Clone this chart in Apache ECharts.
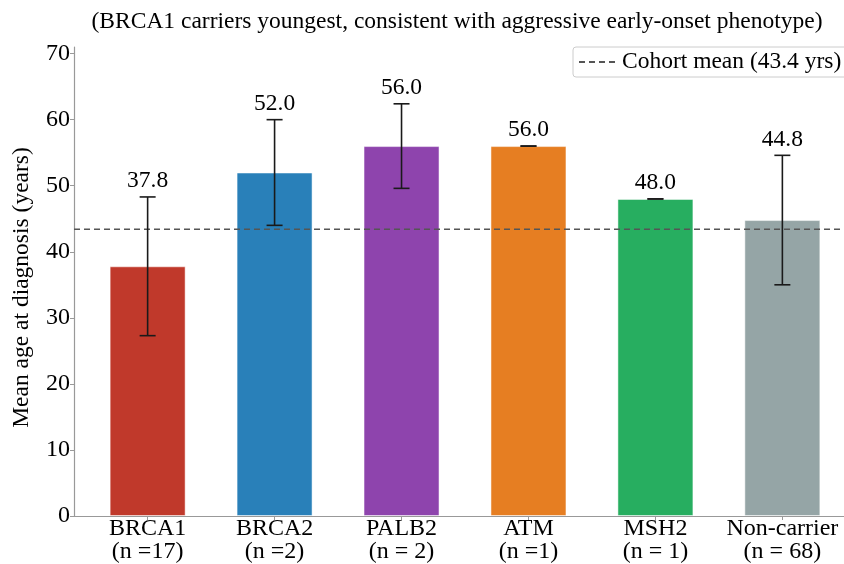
<!DOCTYPE html>
<html>
<head>
<meta charset="utf-8">
<script src="https://cdn.jsdelivr.net/npm/echarts@6/dist/echarts.min.js"></script>
<style>
  html, body { margin: 0; padding: 0; background: #fff; }
  #main { width: 844px; height: 564px; }
</style>
</head>
<body>
<div id="main"></div>
<script>
  var groups = ['BRCA1', 'BRCA2', 'PALB2', 'ATM', 'MSH2', 'Non-carrier'];
  var counts = ['(n =17)', '(n =2)', '(n = 2)', '(n =1)', '(n = 1)', '(n = 68)'];
  var meanAge = [37.8, 52.0, 56.0, 56.0, 48.0, 44.8];
  var errAge = [10.5, 8.0, 6.4, 0, 0, 9.8];
  var colors = ['#c0392b', '#2980b9', '#8e44ad', '#e67e22', '#27ae60', '#95a5a6'];
  var cohortMean = 43.4;
  var yTicks = [0, 10, 20, 30, 40, 50, 60, 70];

  var font = '"Liberation Serif", "Times New Roman", serif';
  var positions = groups.map(function (g, i) { return i; });

  var barData = groups.map(function (g, i) {
    return { value: [i, meanAge[i]], itemStyle: { color: colors[i] } };
  });
  var errData = groups.map(function (g, i) {
    return [i, meanAge[i], errAge[i]];
  });

  var chart = echarts.init(document.getElementById('main'));
  chart.setOption({
    animation: false,
    textStyle: { fontFamily: font, color: '#000' },
    title: {
      text: '(BRCA1 carriers youngest, consistent with aggressive early-onset phenotype)',
      left: 452,
      top: 5,
      textAlign: 'center',
      textStyle: { fontFamily: font, fontSize: 23.5, fontWeight: 'normal', color: '#000' }
    },
    legend: {
      left: 573,
      top: 47,
      padding: [3, 14, 3, 5],
      itemWidth: 38,
      itemGap: 6,
      borderColor: '#cccccc',
      borderWidth: 1,
      borderRadius: 3,
      itemStyle: { opacity: 0 },
      data: ['Cohort mean (43.4 yrs)'],
      textStyle: { fontFamily: font, fontSize: 23.5, color: '#000' }
    },
    grid: { left: 74, top: 47, width: 782, bottom: 48, outerBoundsMode: 'none' },
    xAxis: {
      type: 'value',
      min: -0.58,
      max: 5.58,
      splitLine: { show: false },
      axisLine: { onZero: false, lineStyle: { color: '#999', width: 1.2 } },
      axisTick: { show: true, customValues: positions, length: 4, lineStyle: { color: '#999' } },
      axisLabel: {
        customValues: positions,
        formatter: function (v) {
          var i = Math.round(v);
          return groups[i] + '\n' + counts[i];
        },
        fontFamily: font,
        fontSize: 24,
        lineHeight: 23,
        color: '#000',
        margin: 1
      }
    },
    yAxis: {
      type: 'value',
      min: 0,
      max: 71,
      name: 'Mean age at diagnosis (years)',
      nameLocation: 'middle',
      nameGap: 40,
      nameTextStyle: { fontFamily: font, fontSize: 23.5, color: '#000', padding: [0, 0, 0, -12] },
      splitLine: { show: false },
      axisLine: { show: true, onZero: false, lineStyle: { color: '#999', width: 1.2 } },
      axisTick: { show: true, customValues: yTicks, length: 4, lineStyle: { color: '#999' } },
      axisLabel: { customValues: yTicks, fontFamily: font, fontSize: 24, color: '#000', margin: 4 }
    },
    series: [
      {
        type: 'bar',
        barWidth: 76,
        data: barData,
        itemStyle: { borderColor: 'rgba(255,255,255,0.5)', borderWidth: 1 }
      },
      {
        name: 'Cohort mean (43.4 yrs)',
        type: 'line',
        symbol: 'none',
        data: [[-0.58, cohortMean], [5.58, cohortMean]],
        itemStyle: { color: '#555' },
        lineStyle: { color: '#555', width: 1.5, type: [6, 4] },
        z: 3
      },
      {
        type: 'custom',
        data: errData,
        z: 4,
        renderItem: function (params, api) {
          var x = api.value(0), v = api.value(1), e = api.value(2);
          var top = api.coord([x, v + e]);
          var bot = api.coord([x, v - e]);
          var cap = 8;
          var style = { stroke: '#1a1a1a', lineWidth: 1.6 };
          return {
            type: 'group',
            children: [
              { type: 'line', shape: { x1: top[0], y1: top[1], x2: bot[0], y2: bot[1] }, style: style },
              { type: 'line', shape: { x1: top[0] - cap, y1: top[1], x2: top[0] + cap, y2: top[1] }, style: style },
              { type: 'line', shape: { x1: bot[0] - cap, y1: bot[1], x2: bot[0] + cap, y2: bot[1] }, style: style },
              {
                type: 'text',
                x: top[0],
                y: top[1] - 4,
                style: {
                  text: v.toFixed(1),
                  fontFamily: font,
                  fontSize: 23.5,
                  fill: '#000',
                  align: 'center',
                  verticalAlign: 'bottom'
                }
              }
            ]
          };
        }
      }
    ]
  });
</script>
</body>
</html>
